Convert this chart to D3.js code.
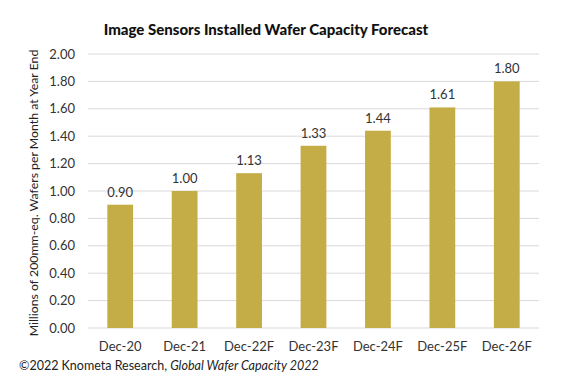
<!DOCTYPE html>
<html>
<head>
<meta charset="utf-8">
<script src="https://cdn.jsdelivr.net/npm/d3@7"></script>
<style>
  body { margin: 0; background: #fff; }
  text { font-family: Lato, "Open Sans", sans-serif; }
</style>
</head>
<body>
<div class="chart"></div>
<script>
// chart data
const categories = ["Dec-20", "Dec-21", "Dec-22F", "Dec-23F", "Dec-24F", "Dec-25F", "Dec-26F"];
const capacity = [0.90, 1.00, 1.13, 1.33, 1.44, 1.61, 1.80];
const yTicks = [0, 0.2, 0.4, 0.6, 0.8, 1.0, 1.2, 1.4, 1.6, 1.8, 2.0];

const W = 562, H = 390;
const margin = { top: 54, right: 23, bottom: 62, left: 88 };

const svg = d3.select("div.chart")
    .append("svg")
    .attr("width", W)
    .attr("height", H);

const x = d3.scaleBand()
    .domain(categories)
    .range([margin.left, W - margin.right])
    .paddingInner(0.6)
    .paddingOuter(0.3);

const y = d3.scaleLinear()
    .domain([0, 2])
    .range([H - margin.bottom, margin.top]);

// gridlines
svg.append("g")
    .selectAll("line")
    .data(yTicks)
    .enter()
    .append("line")
    .attr("x1", margin.left)
    .attr("x2", W - margin.right)
    .attr("y1", d => y(d))
    .attr("y2", d => y(d))
    .attr("stroke", "#d9d9d9")
    .attr("stroke-width", 1);

// y axis labels
svg.append("g")
    .selectAll("text")
    .data(yTicks)
    .enter()
    .append("text")
    .attr("x", 75)
    .attr("y", d => y(d))
    .attr("dy", "0.35em")
    .attr("text-anchor", "end")
    .attr("font-size", "13px")
    .attr("fill", "#333")
    .text(d => d.toFixed(2));

// bars
svg.append("g")
    .selectAll("rect")
    .data(capacity)
    .enter()
    .append("rect")
    .attr("x", (d, i) => x(categories[i]))
    .attr("y", d => y(d))
    .attr("width", x.bandwidth())
    .attr("height", d => y(0) - y(d))
    .attr("fill", "#c4ac46");

// value labels
svg.append("g")
    .selectAll("text")
    .data(capacity)
    .enter()
    .append("text")
    .attr("x", (d, i) => x(categories[i]) + x.bandwidth() / 2)
    .attr("y", d => y(d) - 8)
    .attr("text-anchor", "middle")
    .attr("font-size", "13px")
    .attr("fill", "#333")
    .text(d => d.toFixed(2));

// x axis labels
svg.append("g")
    .selectAll("text")
    .data(categories)
    .enter()
    .append("text")
    .attr("x", d => x(d) + x.bandwidth() / 2)
    .attr("y", 351)
    .attr("text-anchor", "middle")
    .attr("font-size", "13px")
    .attr("fill", "#333")
    .text(d => d);

// title
svg.append("text")
    .attr("x", 266)
    .attr("y", 35)
    .attr("text-anchor", "middle")
    .attr("font-size", "15px")
    .attr("font-weight", "900")
    .attr("fill", "#111")
    .text("Image Sensors Installed Wafer Capacity Forecast");

// y axis title
svg.append("text")
    .attr("transform", "translate(38,193) rotate(-90)")
    .attr("text-anchor", "middle")
    .attr("font-size", "12.3px")
    .attr("fill", "#222")
    .text("Millions of 200mm-eq. Wafers per Month at Year End");

// source note
const note = svg.append("text")
    .attr("x", 19)
    .attr("y", 370)
    .attr("font-size", "12.5px")
    .attr("fill", "#222");
note.append("tspan").text("©2022 Knometa Research, ");
note.append("tspan").attr("font-style", "italic").text("Global Wafer Capacity 2022");
</script>
</body>
</html>
